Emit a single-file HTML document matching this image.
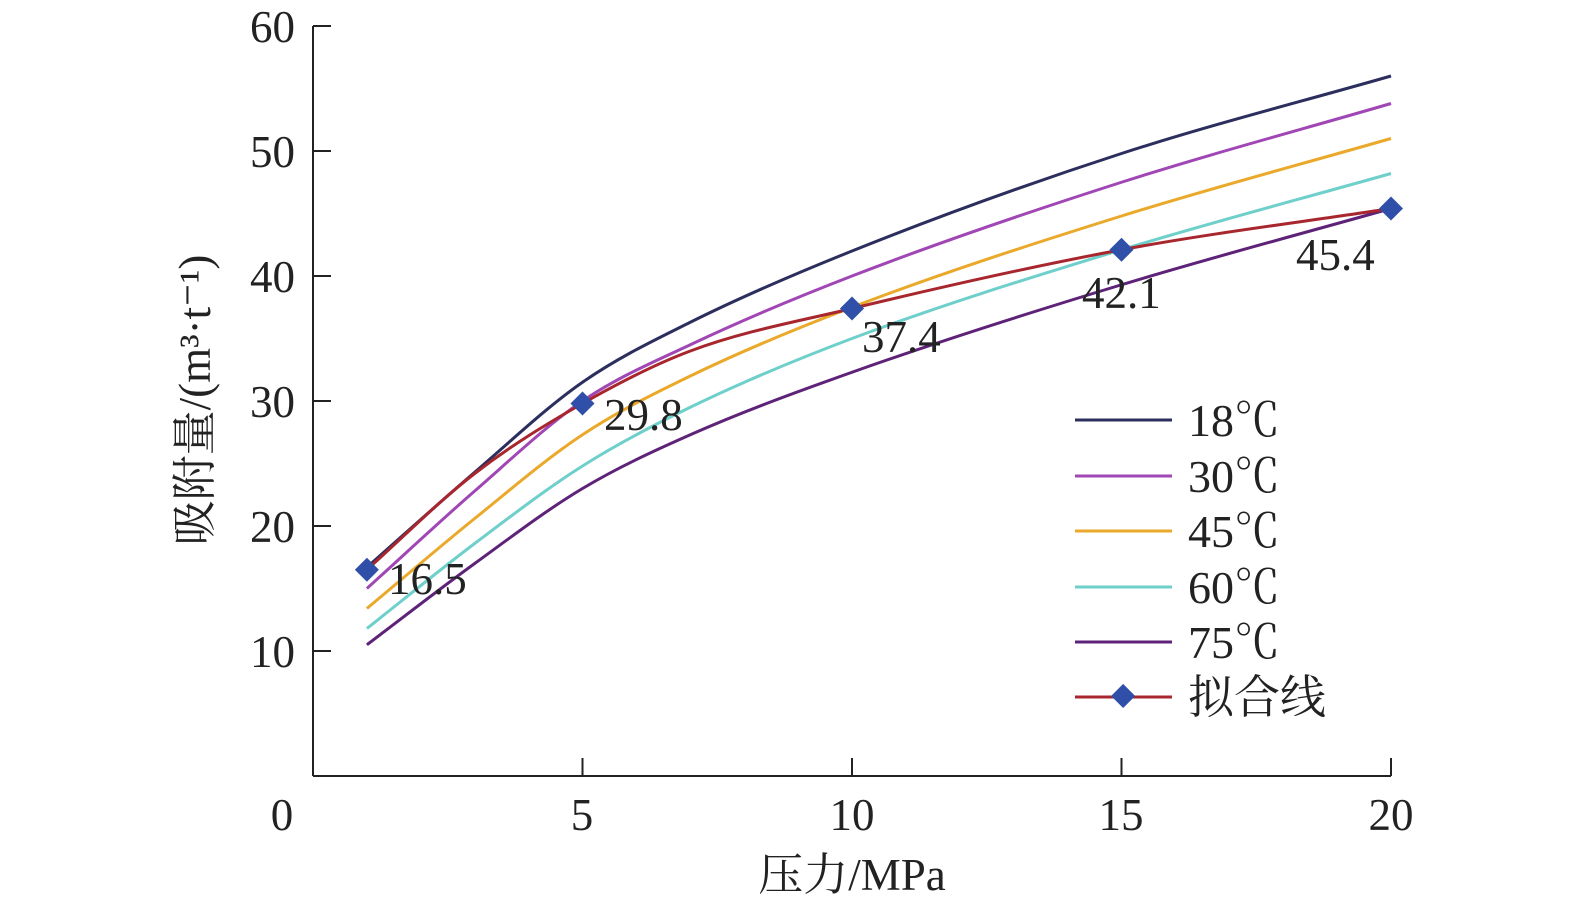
<!DOCTYPE html>
<html><head><meta charset="utf-8"><style>
html,body{margin:0;padding:0;background:#fff;}
svg text{font-family:"Liberation Serif","Noto Serif CJK SC",serif;fill:#222;}
</style></head><body>
<svg id="s" width="1575" height="910" xmlns="http://www.w3.org/2000/svg">
<g stroke="#222" stroke-width="2" fill="none">
<line x1="313" y1="26" x2="313" y2="776"/>
<line x1="313" y1="776" x2="1391" y2="776"/>
<line x1="313" y1="26" x2="331" y2="26"/>
<line x1="313" y1="151" x2="331" y2="151"/>
<line x1="313" y1="276" x2="331" y2="276"/>
<line x1="313" y1="401" x2="331" y2="401"/>
<line x1="313" y1="526" x2="331" y2="526"/>
<line x1="313" y1="651" x2="331" y2="651"/>
<line x1="582.5" y1="776" x2="582.5" y2="758"/>
<line x1="852" y1="776" x2="852" y2="758"/>
<line x1="1121.5" y1="776" x2="1121.5" y2="758"/>
<line x1="1391" y1="776" x2="1391" y2="758"/>
</g>
<g font-size="45" text-anchor="end">
<text x="295" y="42">60</text><text x="295" y="167">50</text><text x="295" y="292">40</text>
<text x="295" y="417">30</text><text x="295" y="542">20</text><text x="295" y="667">10</text>
</g>
<g font-size="45" text-anchor="middle">
<text x="282" y="830">0</text><text x="582" y="830">5</text><text x="852" y="830">10</text>
<text x="1121" y="830">15</text><text x="1391" y="830">20</text>
<text x="852" y="890">压力/MPa</text>
<text transform="translate(210,400) rotate(-90)">吸附量/(m³·t⁻¹)</text>
</g>
<g id="curves" fill="none" stroke-width="3"></g>
<g font-size="45">
<text x="388" y="594">16.5</text><text x="604" y="430">29.8</text><text x="862" y="352">37.4</text>
<text x="1082" y="308">42.1</text><text x="1296" y="270">45.4</text>
</g>
<g stroke-width="3">
<line x1="1075" y1="420" x2="1172" y2="420" stroke="#2c2f5e"/>
<line x1="1075" y1="476" x2="1172" y2="476" stroke="#a146b5"/>
<line x1="1075" y1="531" x2="1172" y2="531" stroke="#eaa92a"/>
<line x1="1075" y1="587" x2="1172" y2="587" stroke="#6ecfcb"/>
<line x1="1075" y1="642" x2="1172" y2="642" stroke="#5e2378"/>
<line x1="1075" y1="697" x2="1172" y2="697" stroke="#a8262d"/>
</g>
<rect x="1114" y="688" width="17" height="17" fill="#2f4fa8" transform="rotate(45 1123.5 697)"/>
<g font-size="46">
<text x="1188" y="436">18℃</text><text x="1188" y="492">30℃</text><text x="1188" y="547">45℃</text>
<text x="1188" y="603">60℃</text><text x="1188" y="658">75℃</text><text x="1188" y="713">拟合线</text>
</g>
<g id="marks"></g>
</svg>
<script>
function X(v){return 313+v*53.9;}function Y(v){return 776-v*12.5;}
function path(pts){var n=pts.length,m=[];
for(var i=0;i<n;i++){
var s1=i>0?(pts[i][1]-pts[i-1][1])/(pts[i][0]-pts[i-1][0]):null;
var s2=i<n-1?(pts[i+1][1]-pts[i][1])/(pts[i+1][0]-pts[i][0]):null;
m.push(s1===null?s2:s2===null?s1:(s1+s2)/2);}
var d="M"+X(pts[0][0])+","+Y(pts[0][1]);
for(var i=0;i<n-1;i++){var h=(pts[i+1][0]-pts[i][0])/3;
d+=" C"+X(pts[i][0]+h)+","+Y(pts[i][1]+m[i]*h)+" "+X(pts[i+1][0]-h)+","+Y(pts[i+1][1]-m[i+1]*h)+" "+X(pts[i+1][0])+","+Y(pts[i+1][1]);}
return d;}
var S=[["#2c2f5e",[[1,16.7],[3,24.3],[5,31.5],[7,36.3],[10,42],[15,49.8],[20,56]]],
["#a146b5",[[1,15],[3,22.8],[5,30],[7,34.5],[10,40],[15,47.5],[20,53.8]]],
["#eaa92a",[[1,13.4],[3,20.6],[5,27.3],[7,32],[10,37.5],[15,44.8],[20,51]]],
["#6ecfcb",[[1,11.8],[3,18.6],[5,24.8],[7,29.5],[10,35],[15,42.1],[20,48.2]]],
["#5e2378",[[1,10.5],[3,17],[5,23],[7,27.3],[10,32.3],[15,39.3],[20,45.4]]],
["#a8262d",[[1,16.5],[3,24.2],[5,29.8],[7,34],[10,37.4],[15,42.1],[20,45.4]]]];
var g=document.getElementById("curves"),h="";
S.forEach(function(s){h+='<path d="'+path(s[1])+'" stroke="'+s[0]+'"/>';});g.innerHTML=h;
var mk="";[[1,16.5],[5,29.8],[10,37.4],[15,42.1],[20,45.4]].forEach(function(a){var x=X(a[0]),y=Y(a[1]);
mk+='<rect x="'+(x-8.5)+'" y="'+(y-8.5)+'" width="17" height="17" fill="#2f4fa8" transform="rotate(45 '+x+' '+y+')"/>';});
document.getElementById("marks").innerHTML=mk;
</script>
</body></html>
